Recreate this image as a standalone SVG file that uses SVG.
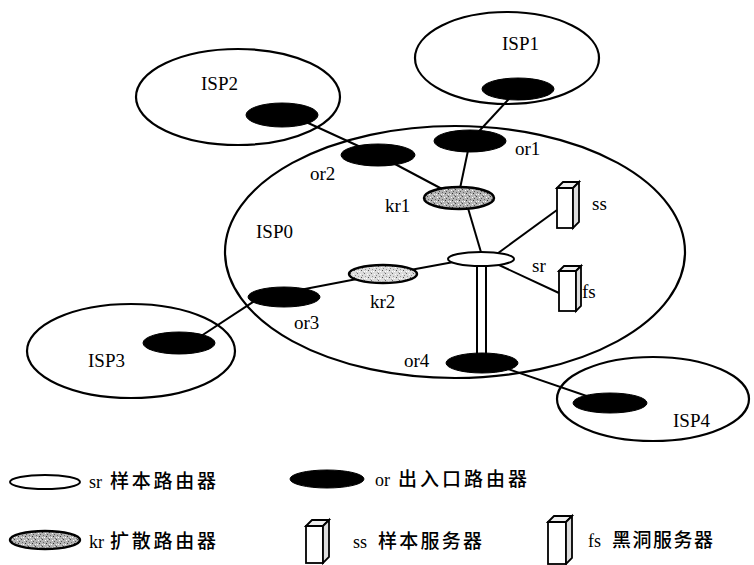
<svg xmlns="http://www.w3.org/2000/svg" width="754" height="565" viewBox="0 0 754 565">
<defs>
<pattern id="spk" width="7" height="7" patternUnits="userSpaceOnUse">
<rect width="7" height="7" fill="#b4b4b4"/>
<rect x="0" y="0" width="1" height="1" fill="#444"/>
<rect x="3" y="1" width="1" height="1" fill="#fff"/>
<rect x="5" y="2" width="1" height="1" fill="#555"/>
<rect x="1" y="3" width="1" height="1" fill="#666"/>
<rect x="4" y="4" width="1" height="1" fill="#333"/>
<rect x="2" y="5" width="1" height="1" fill="#fff"/>
<rect x="6" y="6" width="1" height="1" fill="#777"/>
<rect x="0" y="5" width="1" height="1" fill="#eee"/>
<rect x="5" y="0" width="1" height="1" fill="#ddd"/>
</pattern>
<pattern id="spkl" width="7" height="7" patternUnits="userSpaceOnUse">
<rect width="7" height="7" fill="#dcdcdc"/>
<rect x="0" y="0" width="1" height="1" fill="#666"/>
<rect x="3" y="1" width="1" height="1" fill="#fff"/>
<rect x="5" y="2" width="1" height="1" fill="#888"/>
<rect x="1" y="3" width="1" height="1" fill="#999"/>
<rect x="4" y="4" width="1" height="1" fill="#555"/>
<rect x="2" y="5" width="1" height="1" fill="#fff"/>
<rect x="6" y="6" width="1" height="1" fill="#aaa"/>
<rect x="0" y="5" width="1" height="1" fill="#fff"/>
</pattern>
</defs>
<style>
.isp{fill:none;stroke:#000;stroke-width:2.2}
.or{fill:#000;stroke:#000;stroke-width:1}
.kr{fill:url(#spk);stroke:#000;stroke-width:2.5}
.krl{fill:url(#spkl);stroke:#000;stroke-width:2.5}
.sr{fill:#fff;stroke:#000;stroke-width:2}
.ln{stroke:#000;stroke-width:2;fill:none}
.lbl{font-family:"Liberation Serif","Times New Roman",serif;font-size:19px;fill:#000}
.leg{font-family:"Liberation Serif","Noto Sans CJK SC",serif;font-size:18px;fill:#000}
.cjk{font-family:"Noto Sans CJK SC","Noto Sans CJK JP",sans-serif;font-size:19px;font-weight:500}
.bf{fill:#fff;stroke:#000;stroke-width:1.8}
.bs{fill:#ddd;stroke:#000;stroke-width:1.8}
.bt{fill:#eee;stroke:#000;stroke-width:1.8}
</style>
<rect width="754" height="565" fill="#fff"/>

<g id="isp0"><ellipse class="isp" cx="455" cy="252" rx="230" ry="126"/><text class="lbl" x="256" y="238">ISP0</text></g>
<g id="isp1"><ellipse class="isp" cx="507" cy="58" rx="92" ry="46"/><text class="lbl" x="502" y="50">ISP1</text></g>
<g id="isp2"><ellipse class="isp" cx="238" cy="97" rx="102" ry="48"/><text class="lbl" x="201" y="90">ISP2</text></g>
<g id="isp3"><ellipse class="isp" cx="131" cy="351" rx="104" ry="47"/><text class="lbl" x="88" y="367">ISP3</text></g>
<g id="isp4"><ellipse class="isp" cx="653" cy="399" rx="96" ry="42"/><text class="lbl" x="673" y="427">ISP4</text></g>

<g id="connectors">
<line class="ln" x1="282" y1="111" x2="378" y2="155"/>
<line class="ln" x1="518" y1="89" x2="470" y2="141"/>
<line class="ln" x1="378" y1="155" x2="459" y2="198"/>
<line class="ln" x1="470" y1="141" x2="458" y2="198"/>
<line class="ln" x1="465" y1="198" x2="483" y2="259"/>
<line class="ln" x1="490" y1="259" x2="557" y2="210"/>
<line class="ln" x1="486" y1="259" x2="559" y2="293"/>
<line class="ln" x1="470" y1="259" x2="383" y2="275"/>
<line class="ln" x1="284" y1="293" x2="383" y2="274"/>
<line class="ln" x1="195" y1="340" x2="262" y2="296"/>
<line class="ln" x1="482" y1="360" x2="610" y2="404"/>
<rect x="477" y="262" width="9" height="94" fill="#fff" stroke="#000" stroke-width="2"/>
</g>

<g id="isp1-node"><ellipse class="or" cx="518" cy="89" rx="36" ry="11"/></g>
<g id="isp2-node"><ellipse class="or" cx="282" cy="115" rx="36" ry="12"/></g>
<g id="isp3-node"><ellipse class="or" cx="179" cy="343" rx="36" ry="11"/></g>
<g id="isp4-node"><ellipse class="or" cx="610" cy="403" rx="37" ry="10"/></g>
<g id="or1"><ellipse class="or" cx="470" cy="141" rx="36" ry="11"/><text class="lbl" x="515" y="155">or1</text></g>
<g id="or2"><ellipse class="or" cx="378" cy="155" rx="37" ry="11"/><text class="lbl" x="310" y="180">or2</text></g>
<g id="or3"><ellipse class="or" cx="284" cy="297" rx="36" ry="10"/><text class="lbl" x="294" y="329">or3</text></g>
<g id="or4"><ellipse class="or" cx="482" cy="363" rx="36" ry="10"/><text class="lbl" x="404" y="367">or4</text></g>
<g id="kr1"><ellipse class="kr" cx="459" cy="198" rx="35" ry="11"/><text class="lbl" x="385" y="212">kr1</text></g>
<g id="kr2"><ellipse class="krl" cx="383" cy="274" rx="34" ry="9"/><text class="lbl" x="370" y="308">kr2</text></g>
<g id="sr"><ellipse class="sr" cx="481" cy="259" rx="33" ry="7"/><text class="lbl" x="532" y="272">sr</text></g>
<g id="ss">
<rect class="bf" x="557" y="188" width="16" height="40"/>
<polygon class="bt" points="557,188 563,182 579,182 573,188"/>
<polygon class="bs" points="573,188 579,182 579,222 573,228"/>
<text class="lbl" x="592" y="210">ss</text>
</g>
<g id="fs">
<rect class="bf" x="559" y="271" width="17" height="40"/>
<polygon class="bt" points="559,271 564,266 581,266 576,271"/>
<polygon class="bs" points="576,271 581,266 581,306 576,311"/>
<text class="lbl" x="582" y="298">fs</text>
</g>

<g id="legend-sr"><ellipse class="sr" cx="45" cy="482" rx="35" ry="7" stroke-width="2.5"/><text class="leg" x="89" y="488">sr<tspan class="cjk" x="110" textLength="106" lengthAdjust="spacing">样本路由器</tspan></text></g>
<g id="legend-or"><ellipse class="or" cx="327" cy="479" rx="37" ry="9"/><text class="leg" x="375" y="486">or<tspan class="cjk" x="398" textLength="129" lengthAdjust="spacing">出入口路由器</tspan></text></g>
<g id="legend-kr"><ellipse class="kr" cx="45" cy="540" rx="35" ry="9" stroke-width="4"/><text class="leg" x="89" y="548">kr<tspan class="cjk" x="110" textLength="106" lengthAdjust="spacing">扩散路由器</tspan></text></g>
<g id="legend-ss">
<rect class="bf" x="306" y="526" width="17" height="37"/>
<polygon class="bt" points="306,526 312,520 329,520 323,526"/>
<polygon class="bs" points="323,526 329,520 329,557 323,563"/>
<text class="leg" x="353" y="548">ss<tspan class="cjk" x="378" textLength="104" lengthAdjust="spacing">样本服务器</tspan></text>
</g>
<g id="legend-fs">
<rect class="bf" x="548" y="522" width="18" height="42"/>
<polygon class="bt" points="548,522 554,516 572,516 566,522"/>
<polygon class="bs" points="566,522 572,516 572,558 566,564"/>
<text class="leg" x="588" y="547">fs<tspan class="cjk" x="612" textLength="101" lengthAdjust="spacing">黑洞服务器</tspan></text>
</g>
</svg>
